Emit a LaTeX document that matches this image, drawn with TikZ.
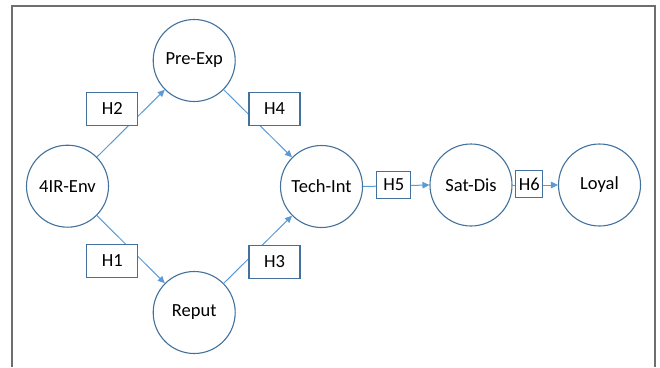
\documentclass[tikz,border=0pt]{standalone}
\usepackage{fontspec}
\setmainfont{Carlito}
\usetikzlibrary{arrows.meta}
\definecolor{circblue}{HTML}{41719C}
\definecolor{arrblue}{HTML}{5B9BD5}
\definecolor{frame}{HTML}{6E6E6E}
\tikzset{
  var/.style={circle, draw=circblue, line width=1.1pt, minimum size=82pt, inner sep=0pt, font=\fontsize{18.5}{21}\selectfont},
  hyp/.style={rectangle, draw=circblue, line width=1.1pt, fill=white, minimum width=51pt, minimum height=33pt, inner sep=0pt, font=\fontsize{18.5}{21}\selectfont},
  link/.style={draw=arrblue, line width=1pt, -{Triangle[length=7pt,width=6.5pt]}},
}
\begin{document}
\begin{tikzpicture}[x=1pt,y=-1pt]
\useasboundingbox (0,0) rectangle (660,367);
\draw[frame, line width=1.5pt] (12,367) -- (12,6) -- (655,6) -- (655,367);
\node[var] (env) at (67.5,186.2) {4IR-Env};
\node[var] (pre) at (194.2,60.5) {Pre-Exp};
\node[var] (rep) at (194.2,312.5) {Reput};
\node[var] (tech) at (321.5,186.5) {Tech-Int};
\node[var] (sat) at (471,185) {Sat-Dis};
\node[var] (loy) at (599.5,185) {Loyal};
\draw[link] (env) -- (pre);
\draw[link] (env) -- (rep);
\draw[link] (pre) -- (tech);
\draw[link] (rep) -- (tech);
\draw[link] (tech.east) -- (sat.west);
\draw[link] (sat.east) -- (loy.west);
\node[hyp] (h2) at (112.2,108.7) {H2};
\node[hyp] (h1) at (112.2,261) {H1};
\node[hyp] (h4) at (274.5,108.8) {H4};
\node[hyp] (h3) at (274.5,261.7) {H3};
\node[hyp, minimum width=34pt, minimum height=27pt] (h5) at (393.7,185) {H5};
\node[hyp, minimum width=27pt, minimum height=27pt] (h6) at (529.3,184) {H6};
\end{tikzpicture}
\end{document}
